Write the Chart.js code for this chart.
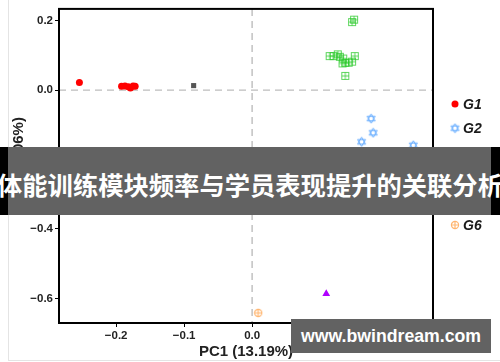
<!DOCTYPE html>
<html>
<head>
<meta charset="utf-8">
<script src="https://cdn.jsdelivr.net/npm/chart.js@4.4.0/dist/chart.umd.min.js"></script>
<style>
  html, body { margin: 0; padding: 0; background: #fff; }
  #wrap { position: relative; width: 500px; height: 362px; overflow: hidden; font-family: Arial, "Liberation Sans", sans-serif; }
  #c { position: absolute; left: 0; top: 0; }
  #frameL { position: absolute; left: 8px; top: 0; width: 1px; height: 361px; background: #e4e4e4; }
  #frameB { position: absolute; left: 8px; top: 360px; width: 492px; height: 1px; background: #e4e4e4; }
  #bannerBlack { position: absolute; left: 0; top: 147px; width: 500px; height: 68px; background: #000; }
  #banner { position: absolute; left: 8px; top: 147px; width: 483px; height: 68px; background: #626262; }
  #bannerText { position: absolute; left: -10px; top: 147px; width: 520px; height: 68px; line-height: 74px; text-align: center; color: #fff; font-size: 25.3px; font-weight: bold; font-family: "Noto Sans CJK SC", sans-serif; white-space: nowrap; }
  #wm { position: absolute; left: 291px; top: 319px; width: 200px; height: 34px; background: #626262; color: #fff; font-size: 17.7px; font-weight: bold; line-height: 34px; text-align: center; font-family: Arial, "Liberation Sans", sans-serif; }
</style>
</head>
<body>
<div id="wrap">
  <div id="frameL"></div>
  <div id="frameB"></div>
  <canvas id="c" width="500" height="362"></canvas>
  <div id="bannerBlack"></div>
  <div id="banner"></div>
  <div id="bannerText">体能训练模块频率与学员表现提升的关联分析</div>
  <div id="wm">www.bwindream.com</div>
</div>
<script>
// ---- Data ----
const groupLabels = ["G1", "G2", "G3", "G4", "G5", "G6"];
const g1X = [-0.254, -0.192, -0.187, -0.182, -0.179, -0.175, -0.172];
const g1Y = [0.022, 0.011, 0.012, 0.010, 0.006, 0.012, 0.011];
const g2X = [0.175, 0.178, 0.161, 0.237];
const g2Y = [-0.082, -0.123, -0.149, -0.159];
const g3X = [0.147, 0.150, 0.114, 0.120, 0.126, 0.129, 0.134, 0.137, 0.142, 0.147, 0.151, 0.133, 0.137];
const g3Y = [0.196, 0.203, 0.098, 0.098, 0.103, 0.096, 0.091, 0.079, 0.079, 0.082, 0.098, 0.077, 0.041];
const g4X = [-0.086];
const g4Y = [0.013];
const g5X = [0.109];
const g5Y = [-0.587];
const g6X = [0.009];
const g6Y = [-0.642];
const xTicks = [-0.2, -0.1, 0.0, 0.1, 0.2];
const yTicks = [0.2, 0.0, -0.2, -0.4, -0.6];
const xTitle = "PC1 (13.19%)";
const yTitle = "PC2 (6.06%)";

function pts(xs, ys) { return xs.map((x, i) => ({ x: x, y: ys[i] })); }

// custom point-style canvases
function makeStar(color) {
  const s = 11, c = document.createElement('canvas'); c.width = s; c.height = s;
  const g = c.getContext('2d'); g.strokeStyle = color; g.lineWidth = 0.9;
  const cx = s / 2, cy = s / 2, r = 4.6;
  for (const off of [-Math.PI / 2, Math.PI / 2]) {
    g.beginPath();
    for (let k = 0; k < 3; k++) {
      const a = off + k * 2 * Math.PI / 3;
      const px = cx + r * Math.cos(a), py = cy + r * Math.sin(a);
      k === 0 ? g.moveTo(px, py) : g.lineTo(px, py);
    }
    g.closePath(); g.stroke();
  }
  return c;
}
function makeSqPlus(color) {
  const s = 10, c = document.createElement('canvas'); c.width = s; c.height = s;
  const g = c.getContext('2d'); g.strokeStyle = color; g.lineWidth = 1;
  g.strokeRect(1.5, 1.5, 7, 7);
  g.beginPath(); g.moveTo(5, 1.5); g.lineTo(5, 8.5); g.moveTo(1.5, 5); g.lineTo(8.5, 5); g.stroke();
  return c;
}
function makeCircPlus(color) {
  const s = 10, c = document.createElement('canvas'); c.width = s; c.height = s;
  const g = c.getContext('2d'); g.strokeStyle = color; g.lineWidth = 1.2;
  g.beginPath(); g.arc(5, 5, 3.6, 0, Math.PI * 2); g.stroke();
  g.beginPath(); g.moveTo(5, 1.4); g.lineTo(5, 8.6); g.moveTo(1.4, 5); g.lineTo(8.6, 5); g.stroke();
  return c;
}
const starImg = makeStar('rgba(60,150,255,0.85)');
const sqImg = makeSqPlus('rgba(40,200,40,0.75)');
const circImg = makeCircPlus('rgba(255,170,90,0.85)');

const datasets = [
  { label: groupLabels[0], data: pts(g1X, g1Y), pointStyle: 'circle', pointRadius: 3.5, backgroundColor: '#ff0000', borderColor: '#ff0000', borderWidth: 0 },
  { label: groupLabels[1], data: pts(g2X, g2Y), pointStyle: starImg, pointRadius: 5, backgroundColor: '#3399ff', borderColor: '#3399ff' },
  { label: groupLabels[2], data: pts(g3X, g3Y), pointStyle: sqImg, pointRadius: 5, backgroundColor: '#2fc42f', borderColor: '#2fc42f' },
  { label: groupLabels[3], data: pts(g4X, g4Y), pointStyle: 'rect', pointRadius: 3.6, backgroundColor: '#555555', borderColor: '#555555', borderWidth: 0 },
  { label: groupLabels[4], data: pts(g5X, g5Y), pointStyle: 'triangle', pointRadius: 4.5, backgroundColor: '#b000ff', borderColor: '#b000ff', borderWidth: 0 },
  { label: groupLabels[5], data: pts(g6X, g6Y), pointStyle: circImg, pointRadius: 5, backgroundColor: '#ffaa5a', borderColor: '#ffaa5a' }
];

const axisFont = 'Arial, "Liberation Sans", sans-serif';

const refLines = {
  id: 'refLines',
  beforeDatasetsDraw(chart) {
    const { ctx, chartArea: a, scales: { x, y } } = chart;
    ctx.save();
    ctx.strokeStyle = '#bdbdbd'; ctx.lineWidth = 1.4; ctx.setLineDash([7, 5]);
    const y0 = y.getPixelForValue(0), x0 = x.getPixelForValue(0);
    ctx.beginPath(); ctx.moveTo(a.left, y0); ctx.lineTo(a.right, y0); ctx.stroke();
    ctx.beginPath(); ctx.moveTo(x0, a.top); ctx.lineTo(x0, a.bottom); ctx.stroke();
    ctx.restore();
  },
  afterDraw(chart) {
    const { ctx, chartArea: a } = chart;
    ctx.save();
    ctx.strokeStyle = '#000'; ctx.lineWidth = 2;
    ctx.strokeRect(a.left, a.top, a.right - a.left, a.bottom - a.top);
    // y-axis title
    ctx.save();
    ctx.translate(19, 160);
    ctx.rotate(-Math.PI / 2);
    ctx.fillStyle = '#222';
    ctx.font = 'bold 15px ' + axisFont;
    ctx.textAlign = 'center'; ctx.textBaseline = 'middle';
    ctx.fillText(yTitle, 0, 0);
    ctx.restore();
    // legend
    const lx = 455, ly0 = 104, step = 24.2;
    chart.data.datasets.forEach((ds, i) => {
      const yy = ly0 + i * step;
      ctx.fillStyle = ds.backgroundColor; ctx.strokeStyle = ds.borderColor; ctx.lineWidth = 1;
      ctx.setLineDash([]);
      Chart.helpers.drawPoint(ctx, { pointStyle: ds.pointStyle, radius: ds.pointRadius, borderWidth: ds.borderWidth === 0 ? 0 : 1, rotation: 0 }, lx, yy);
      ctx.fillStyle = '#1a1a1a';
      ctx.font = 'italic bold 14px ' + axisFont;
      ctx.textAlign = 'left'; ctx.textBaseline = 'middle';
      ctx.fillText(ds.label, lx + 8, yy + 1);
    });
    ctx.restore();
  }
};

new Chart(document.getElementById('c'), {
  type: 'scatter',
  data: { datasets: datasets },
  plugins: [refLines],
  options: {
    responsive: false,
    animation: false,
    devicePixelRatio: 1,
    layout: { padding: { left: 0, top: 5, right: 67, bottom: 0 } },
    plugins: { legend: { display: false }, tooltip: { enabled: false } },
    scales: {
      x: {
        type: 'linear', min: -0.284, max: 0.266,
        afterFit(s) { s.height = 39; },
        afterBuildTicks(s) { s.ticks = xTicks.map(v => ({ value: v })); },
        border: { display: false },
        grid: { display: true, drawOnChartArea: false, drawTicks: true, tickLength: 4, tickColor: '#000', tickWidth: 1 },
        ticks: { color: '#222', font: { size: 11.5, weight: 'bold', family: axisFont }, padding: 2, maxRotation: 0, callback: v => v.toFixed(1).replace('-', '\u2212') },
        title: { display: true, text: xTitle, color: '#222', font: { size: 15, weight: 'bold', family: axisFont }, padding: { top: 0, bottom: 1 } }
      },
      y: {
        type: 'linear', min: -0.671, max: 0.234,
        afterFit(s) { s.width = 59; },
        afterBuildTicks(s) { s.ticks = yTicks.map(v => ({ value: v })); },
        border: { display: false },
        grid: { display: true, drawOnChartArea: false, drawTicks: true, tickLength: 4, tickColor: '#000', tickWidth: 1 },
        ticks: { color: '#222', font: { size: 11.5, weight: 'bold', family: axisFont }, padding: 2, callback: v => v.toFixed(1).replace('-', '\u2212') },
        title: { display: false, text: yTitle }
      }
    }
  }
});
</script>
</body>
</html>
